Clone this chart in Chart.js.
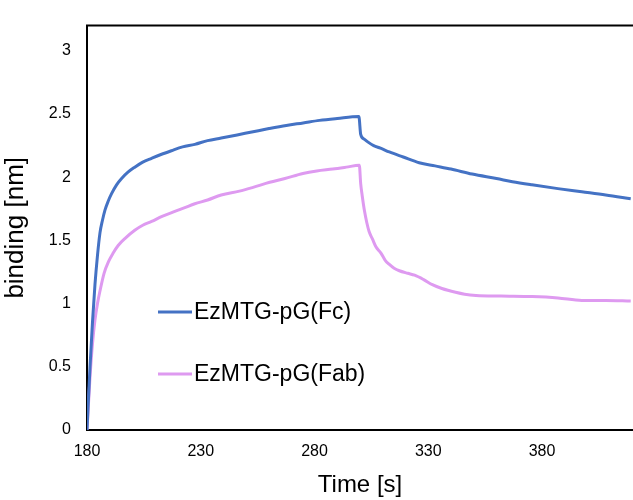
<!DOCTYPE html>
<html>
<head>
<meta charset="utf-8">
<script src="https://cdn.jsdelivr.net/npm/chart.js@4"></script>
<style>
  html, body { margin: 0; padding: 0; background: #fff; }
  #wrap { width: 633px; height: 500px; position: relative; }
</style>
</head>
<body>
<div id="wrap"><canvas id="bindingChart"></canvas></div>
<script>
// Series labels
const seriesLabels = ['EzMTG-pG(Fc)', 'EzMTG-pG(Fab)'];

// EzMTG-pG(Fc): time [s] and binding [nm]
const timeFc = [180, 181.3, 182.4, 183.5, 184.6, 185.7, 186.8, 187.9, 189.3, 190.8, 193, 195.2, 198, 201, 204.5, 208.4, 212.5, 217.1, 222, 227.4,
                233, 239, 246, 253, 260, 267.6, 275, 282.2, 290, 299.5,
                300.3, 302, 303.4, 306, 309, 312.9, 319, 326, 333, 340, 349.3, 360, 367, 375.6, 387, 397.5, 408, 419];
const fcValues = [0, 0.49, 0.85, 1.15, 1.38, 1.56, 1.66, 1.74, 1.81, 1.87, 1.94, 1.99, 2.04, 2.08, 2.12, 2.15, 2.18, 2.21, 2.24, 2.26,
                  2.29, 2.31, 2.335, 2.36, 2.385, 2.41, 2.43, 2.45, 2.465, 2.48,
                  2.34, 2.3, 2.28, 2.25, 2.23, 2.2, 2.16, 2.115, 2.09, 2.065, 2.025, 1.99, 1.965, 1.94, 1.91, 1.885, 1.86, 1.83];

// EzMTG-pG(Fab): time [s] and binding [nm]
const timeFab = [180, 181.3, 182.4, 183.5, 184.6, 185.7, 187.5, 189.4, 191.5, 193.7, 197, 201, 204.5, 208.4, 213, 218.6, 223, 227.4,
                 233, 239, 247, 253, 260.3, 267, 274.9, 281, 288, 294, 299.7,
                 300.3, 301, 302, 303, 304, 305.5, 307, 309.2, 311, 312.9, 315, 317.3, 321, 324, 328, 331.8, 336, 342, 346, 351,
                 362, 375.6, 387, 397.5, 408, 419];
const fabValues = [0, 0.41, 0.68, 0.87, 1.0, 1.1, 1.24, 1.33, 1.4, 1.46, 1.52, 1.58, 1.62, 1.65, 1.69, 1.73, 1.76, 1.79,
                   1.82, 1.86, 1.89, 1.92, 1.96, 1.99, 2.03, 2.05, 2.065, 2.08, 2.095,
                   1.95, 1.85, 1.73, 1.64, 1.57, 1.51, 1.45, 1.4, 1.345, 1.31, 1.28, 1.26, 1.24, 1.225, 1.19, 1.15, 1.12, 1.09, 1.075, 1.065,
                   1.06, 1.056, 1.045, 1.025, 1.025, 1.02];

// Axis ticks
const xTicks = [180, 230, 280, 330, 380];
const yTicks = [0, 0.5, 1, 1.5, 2, 2.5, 3];

const colors = {
    fc: '#4472C4',
    fab: '#DE9AF0',
    axis: '#000000'
};

const FONT = '"Liberation Sans", Arial, Helvetica, sans-serif';

function toPoints(xs, ys) {
    return xs.map((x, i) => ({ x: x, y: ys[i] }));
}

// Top border of the plot frame (right side is cut off in the original)
const frameTop = {
    id: 'frameTop',
    afterDraw(chart) {
        const { ctx, chartArea } = chart;
        ctx.save();
        ctx.strokeStyle = colors.axis;
        ctx.lineWidth = 2;
        ctx.beginPath();
        ctx.moveTo(chartArea.left - 1, chartArea.top);
        ctx.lineTo(chartArea.right, chartArea.top);
        ctx.stroke();
        ctx.restore();
    }
};

// Legend drawn inside the plot, lower left
const insideLegend = {
    id: 'insideLegend',
    afterDatasetsDraw(chart) {
        const { ctx } = chart;
        const rows = [312, 374];
        ctx.save();
        ctx.font = '23px ' + FONT;
        ctx.textBaseline = 'middle';
        chart.data.datasets.forEach((ds, i) => {
            const y = rows[i];
            ctx.strokeStyle = ds.borderColor;
            ctx.lineWidth = 3;
            ctx.beginPath();
            ctx.moveTo(158, y);
            ctx.lineTo(192, y);
            ctx.stroke();
            ctx.fillStyle = '#000';
            ctx.fillText(ds.label, 194, y + 1);
        });
        ctx.restore();
    }
};

const ctx = document.getElementById('bindingChart').getContext('2d');

new Chart(ctx, {
    type: 'line',
    data: {
        datasets: [
            {
                label: seriesLabels[0],
                data: toPoints(timeFc, fcValues),
                borderColor: colors.fc,
                borderWidth: 3,
                pointRadius: 0,
                cubicInterpolationMode: 'monotone'
            },
            {
                label: seriesLabels[1],
                data: toPoints(timeFab, fabValues),
                borderColor: colors.fab,
                borderWidth: 3,
                pointRadius: 0,
                cubicInterpolationMode: 'monotone'
            }
        ]
    },
    options: {
        responsive: true,
        maintainAspectRatio: false,
        animation: false,
        layout: { padding: { top: 15, left: 0, right: 0, bottom: 0 } },
        plugins: {
            legend: { display: false },
            tooltip: { enabled: false }
        },
        scales: {
            x: {
                type: 'linear',
                min: 180,
                max: 420,
                afterBuildTicks(scale) {
                    scale.ticks = xTicks.map(v => ({ value: v }));
                },
                afterFit(scale) { scale.height = 70; },
                grid: { display: false, drawTicks: false },
                border: { display: true, color: colors.axis, width: 2 },
                ticks: {
                    color: '#000',
                    padding: 12,
                    font: { family: FONT, size: 16 },
                    callback: v => String(v)
                },
                title: {
                    display: true,
                    text: 'Time [s]',
                    color: '#000',
                    font: { family: FONT, size: 24 },
                    padding: { top: 9, bottom: 0 }
                }
            },
            y: {
                min: 0,
                max: 3.2,
                afterBuildTicks(scale) {
                    scale.ticks = yTicks.map(v => ({ value: v }));
                },
                afterFit(scale) { scale.width = 87; },
                grid: { display: false, drawTicks: false },
                border: { display: true, color: colors.axis, width: 2 },
                ticks: {
                    color: '#000',
                    padding: 16,
                    font: { family: FONT, size: 16 },
                    callback: v => String(v)
                },
                title: {
                    display: true,
                    text: 'binding [nm]',
                    color: '#000',
                    font: { family: FONT, size: 26 },
                    padding: { top: 0, bottom: 3 }
                }
            }
        }
    },
    plugins: [frameTop, insideLegend]
});
</script>
</body>
</html>
